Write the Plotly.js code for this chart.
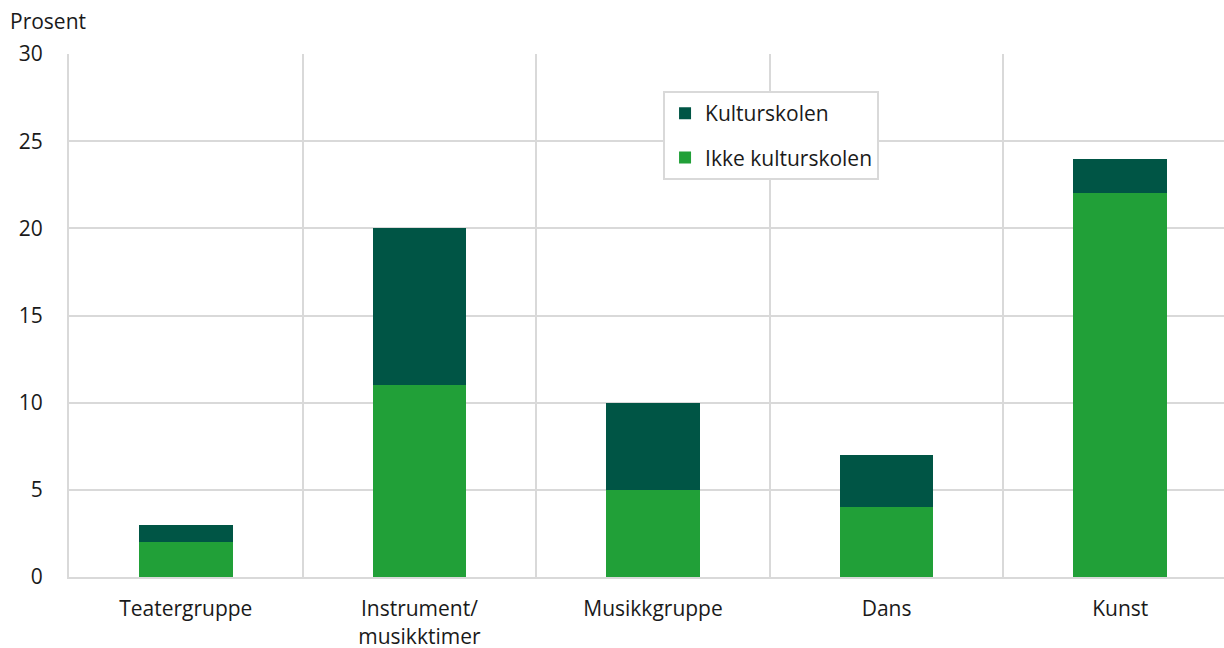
<!DOCTYPE html>
<html>
<head>
<meta charset="utf-8">
<script src="https://cdn.plot.ly/plotly-3.0.1.min.js"></script>
<style>html,body{margin:0;padding:0;background:#fff;overflow:hidden}#wrap{width:1224px;height:648px;overflow:hidden}#chart{width:1237px;height:648px}</style>
</head>
<body>
<div id="wrap"><div id="chart"></div></div>
<script>
const categories = ["Teatergruppe", "Instrument/<br>musikktimer", "Musikkgruppe", "Dans", "Kunst"];
const ikkeKulturskolen = [2, 11, 5, 4, 22];
const kulturskolen = [1, 9, 5, 3, 2];
const yTicks = [0, 5, 10, 15, 20, 25, 30];

const font = {family: "Open Sans, sans-serif", size: 21, color: "#1a1a1a"};

const traces = [
  {type: "bar", name: "Ikke kulturskolen", x: categories, y: ikkeKulturskolen, legendgroup: "ikke", legendrank: 2,
   marker: {color: "#21a038"}, width: 0.4, hoverinfo: "none"},
  {type: "bar", name: "Kulturskolen", x: categories, y: kulturskolen, legendgroup: "kultur", legendrank: 1,
   marker: {color: "#005545"}, width: 0.4, hoverinfo: "none"}
];

const layout = {
  width: 1237, height: 648,
  barmode: "stack",
  font: font,
  paper_bgcolor: "#fff", plot_bgcolor: "#fff",
  margin: {l: 69, r: 0, t: 54, b: 71},
  xaxis: {
    type: "category", tickson: "boundaries", showgrid: true,
    gridcolor: "#d9d9d9", gridwidth: 2,
    showline: true, linecolor: "#d9d9d9", linewidth: 2,
    ticks: "", tickfont: font, ticklabelstandoff: 12
  },
  yaxis: {
    range: [0, 30], tickvals: yTicks, showgrid: true,
    gridcolor: "#d9d9d9", gridwidth: 2, zeroline: false,
    showline: true, linecolor: "#d9d9d9", linewidth: 2,
    ticks: "outside", ticklen: 20, tickcolor: "rgba(0,0,0,0)",
    tickfont: font
  },
  legend: {
    x: 0.5086, y: 0.929, xanchor: "left", yanchor: "top",
    bordercolor: "#d9d9d9", borderwidth: 2, bgcolor: "#fff",
    traceorder: "grouped", font: font, tracegroupgap: 14,
    itemwidth: 30
  },
  annotations: [{
    text: "Prosent", xref: "paper", yref: "paper", x: -61/1168, y: 1,
    xanchor: "left", yanchor: "bottom", yshift: 17, showarrow: false, font: font
  }],
  showlegend: true
};

Plotly.newPlot("chart", traces, layout, {displayModeBar: false, staticPlot: true});
</script>
</body>
</html>
